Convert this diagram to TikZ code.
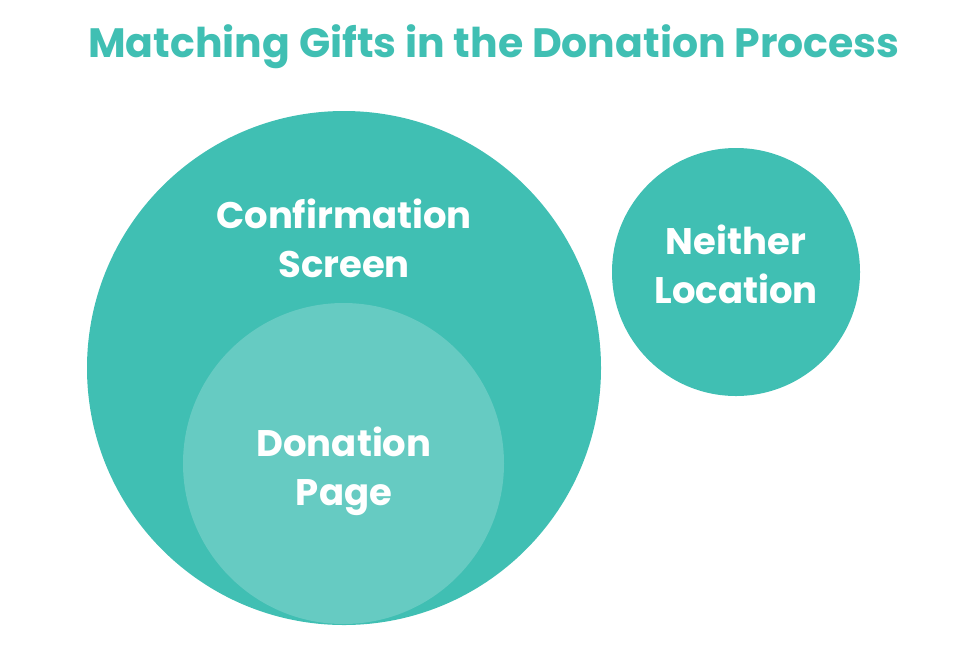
\documentclass[tikz,border=0pt]{standalone}
\usepackage{fontspec}
\setmainfont{Poppins}
\definecolor{teal1}{HTML}{40BFB3}
\definecolor{teal2}{HTML}{66CBC2}
\begin{document}
\begin{tikzpicture}[x=1pt,y=-1pt,
  lbl/.style={text=white,font=\bfseries\fontsize{37}{49}\selectfont,align=center,inner sep=0pt}]
\useasboundingbox (0,0) rectangle (973,670);
\fill[teal1] (344,368) circle (257);
\fill[teal2] (343.5,463.5) circle (160.5);
\fill[teal1] (736,272) circle (124);
\node[font=\bfseries\fontsize{41}{48}\selectfont,text=teal1,inner sep=0pt] (title) at (494,47) {Matching Gifts in the Donation Process};
\node[lbl] (conf) at (344,238) {Confirmation\\Screen};
\node[lbl] (don) at (344,471) {Donation\\Page};
\node[lbl] (nei) at (736,264) {Neither\\Location};
\end{tikzpicture}
\end{document}
